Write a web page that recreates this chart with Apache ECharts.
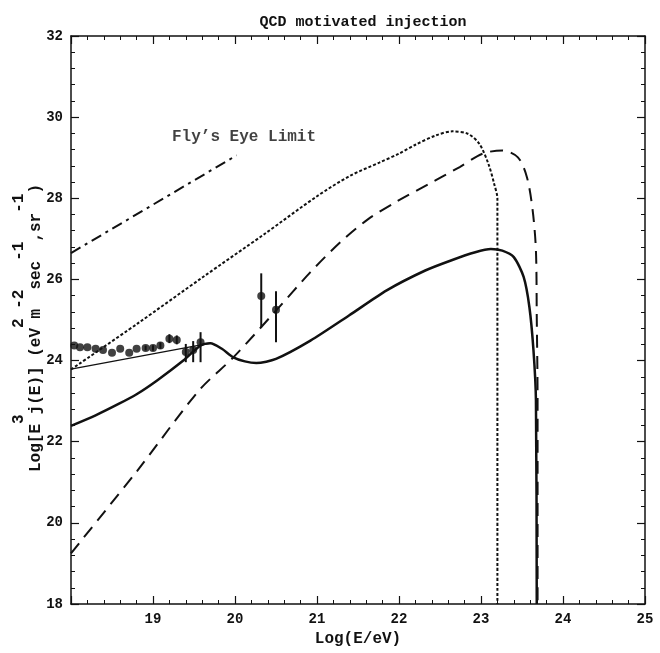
<!DOCTYPE html>
<html><head><meta charset="utf-8">
<script src="https://cdn.jsdelivr.net/npm/echarts@6/dist/echarts.min.js"></script>
<style>html,body{margin:0;padding:0;background:#fff}#c{width:660px;height:653px}</style>
</head><body><div id="c"></div><script>
// ---- data ----
const flyEyeLimit = [[18.0, 26.65], [20.02, 29.06]];
const dottedCurve = [[18.0,23.78],[18.81,24.91],[19.61,26.06],[20.36,27.12],[21.0,28.05],[21.4,28.55],[21.76,28.88],[22.0,29.1],[22.2,29.32],[22.45,29.55],[22.65,29.65],[22.84,29.59],[22.98,29.34],[23.09,28.85],[23.16,28.36],[23.2,27.99],[23.2,18.0]];
const dashedCurve = [[18.0,19.25],[18.81,21.29],[19.56,23.26],[19.98,24.08],[20.5,25.23],[20.92,26.18],[21.29,26.93],[21.62,27.48],[21.98,27.93],[22.37,28.36],[22.74,28.77],[23.02,29.1],[23.26,29.18],[23.45,29.01],[23.56,28.52],[23.63,27.7],[23.67,26.71],[23.68,25.07],[23.69,23.02],[23.69,18.0]];
const solidCurve = [[18.0,22.39],[18.3,22.65],[18.58,22.93],[18.8,23.17],[19.05,23.51],[19.37,24.0],[19.58,24.37],[19.7,24.43],[19.84,24.29],[19.98,24.08],[20.12,23.98],[20.26,23.94],[20.5,24.04],[20.92,24.49],[21.39,25.11],[21.85,25.73],[22.32,26.22],[22.65,26.48],[22.93,26.67],[23.12,26.75],[23.26,26.71],[23.4,26.55],[23.52,26.06],[23.59,25.32],[23.64,24.25],[23.67,23.02],[23.68,18.0]];
const thinLine = [[18.0,23.79],[19.7,24.43]];
const dataPoints = [[18.04,24.37],[18.11,24.33],[18.2,24.33],[18.3,24.29],[18.39,24.26],[18.5,24.19],[18.6,24.29],[18.71,24.19],[18.8,24.29],[18.91,24.31],[19.0,24.31],[19.09,24.37],[19.2,24.54],[19.29,24.51],[19.4,24.21],[19.49,24.26],[19.58,24.45],[20.32,25.59],[20.5,25.25]];
const errorBars = [[18.91,24.25,24.37],[19.0,24.24,24.38],[19.09,24.29,24.45],[19.2,24.43,24.65],[19.29,24.4,24.62],[19.4,23.96,24.41],[19.49,23.96,24.48],[19.58,23.96,24.7],[20.32,24.82,26.15],[20.5,24.45,25.71]];
const flyLabel = [[20.11, 29.52, "Fly\u2019s Eye Limit"]];
const xTickRange = [18, 25];
const yTickRange = [18, 32];
const titleText = "QCD motivated injection";
const xName = "Log(E/eV)";
const yNameMain = "Log[E j(E)] (eV m  sec  ,sr  )";
const yNameSup  = "     3         2 -2   -1   -1 ";

const INK = '#111';
const FONT = '"Liberation Mono", "DejaVu Sans Mono", monospace';
const chart = echarts.init(document.getElementById('c'), null, {renderer: 'canvas'});

function axisCommon(showLabel) {
  return {
    type: 'value',
    axisLine: {show: true, onZero: false, lineStyle: {color: INK, width: 1.5}},
    axisTick: {show: true, inside: true, length: 8, lineStyle: {color: INK, width: 1.2}},
    minorTick: {show: true, splitNumber: 5, length: 4, lineStyle: {color: INK, width: 1}},
    splitLine: {show: false},
    axisLabel: {show: showLabel, color: INK, fontFamily: FONT, fontWeight: 'bold', fontSize: 14, margin: 8}
  };
}

const xBottom = Object.assign(axisCommon(true), {min: xTickRange[0], max: xTickRange[1], interval: 1, position: 'bottom',
  name: xName, nameLocation: 'middle', nameGap: 27,
  nameTextStyle: {color: INK, fontFamily: FONT, fontWeight: 'bold', fontSize: 16}});
xBottom.axisLabel.showMinLabel = false;
const xTop = Object.assign(axisCommon(false), {min: xTickRange[0], max: xTickRange[1], interval: 1, position: 'top'});
const yLeft = Object.assign(axisCommon(true), {min: yTickRange[0], max: yTickRange[1], interval: 2, position: 'left'});
const yRight = Object.assign(axisCommon(false), {min: yTickRange[0], max: yTickRange[1], interval: 2, position: 'right'});

const lineBase = {type: 'line', showSymbol: false, symbol: 'none', silent: true, animation: false, xAxisIndex: 0, yAxisIndex: 0};

chart.setOption({
  animation: false,
  backgroundColor: '#fff',
  title: {text: titleText, left: 358, top: 10, textAlign: 'center',
    textStyle: {color: INK, fontFamily: FONT, fontWeight: 'bold', fontSize: 15}},
  grid: {left: 71, right: 15, top: 36, bottom: 49, containLabel: false},
  xAxis: [xBottom, xTop],
  yAxis: [yLeft, yRight],
  graphic: [
    {type: 'text', x: 36, y: 328, rotation: Math.PI / 2,
      style: {text: yNameMain, fill: INK, font: 'bold 16px ' + FONT, align: 'center', verticalAlign: 'middle'}},
    {type: 'text', x: 19, y: 328, rotation: Math.PI / 2,
      style: {text: yNameSup, fill: INK, font: 'bold 16px ' + FONT, align: 'center', verticalAlign: 'middle'}}
  ],
  series: [
    Object.assign({}, lineBase, {data: flyEyeLimit, lineStyle: {color: INK, width: 2, type: [11, 5, 3, 5]}}),
    Object.assign({}, lineBase, {data: dottedCurve, smooth: 0.3, lineStyle: {color: INK, width: 2, type: [3, 2]}}),
    Object.assign({}, lineBase, {data: dashedCurve, smooth: 0.3, lineStyle: {color: INK, width: 2, type: [13, 8]}}),
    Object.assign({}, lineBase, {data: solidCurve, smooth: 0.25, lineStyle: {color: INK, width: 2.5}}),
    Object.assign({}, lineBase, {data: thinLine, lineStyle: {color: INK, width: 1.3}}),
    {type: 'custom', animation: false, silent: true, data: errorBars, encode: {x: 0, y: [1, 2]},
      renderItem: function (params, api) {
        const p1 = api.coord([api.value(0), api.value(1)]);
        const p2 = api.coord([api.value(0), api.value(2)]);
        return {type: 'line', shape: {x1: p1[0], y1: p1[1], x2: p2[0], y2: p2[1]},
          style: {stroke: INK, lineWidth: 2}};
      }},
    {type: 'scatter', animation: false, silent: true, data: dataPoints, symbol: 'circle', symbolSize: 8,
      itemStyle: {color: INK}},
    {type: 'scatter', animation: false, silent: true, data: flyLabel, symbolSize: 0,
      label: {show: true, position: 'inside', formatter: function (p) { return p.data[2]; },
        color: INK, fontFamily: FONT, fontWeight: 'bold', fontSize: 16}}
  ]
});
</script></body></html>
